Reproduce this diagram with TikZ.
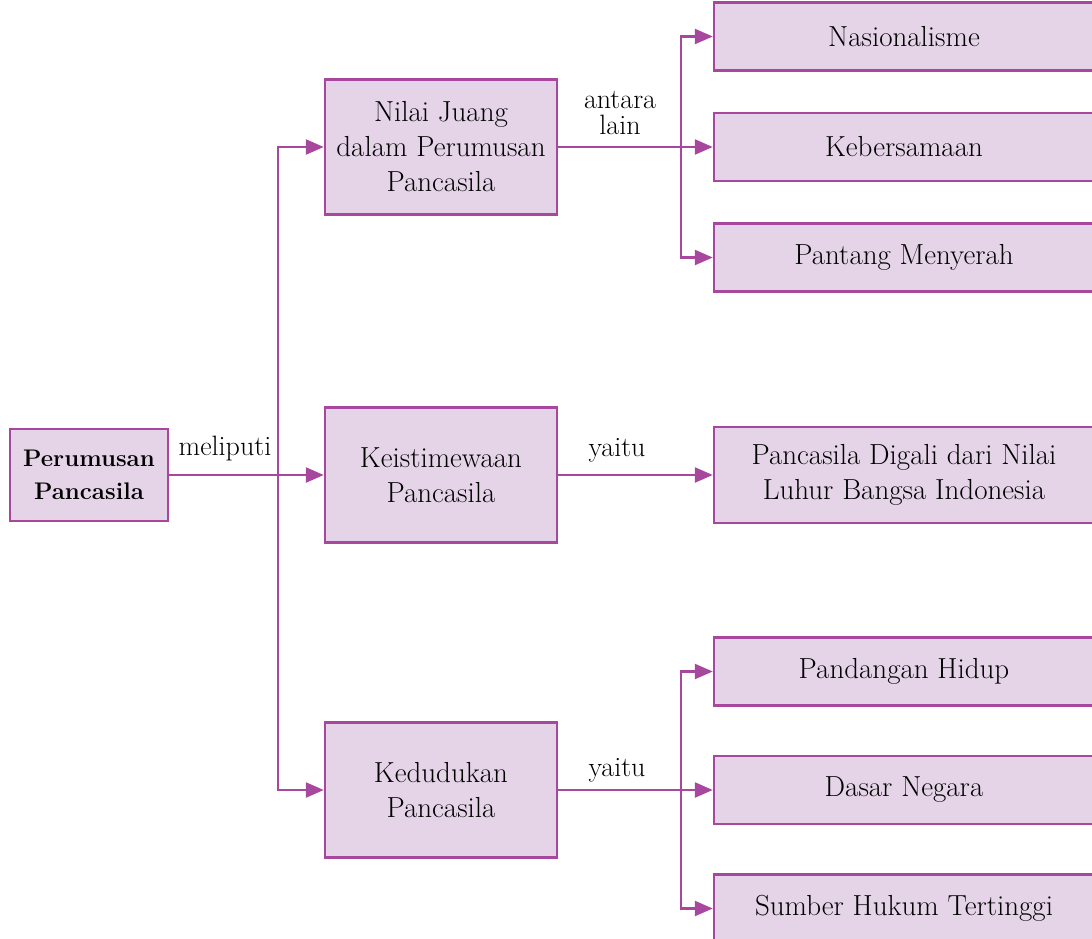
\documentclass[tikz,border=0pt]{standalone}
\usepackage{fontspec}
\usepackage{tikz}
\usetikzlibrary{positioning}
\usetikzlibrary{arrows.meta}
\definecolor{ungu}{HTML}{A8479E}
\definecolor{unguMuda}{HTML}{E5D3E8}

\tikzset{
  kotak/.style={draw=ungu, fill=unguMuda, line width=2.5pt, align=center, inner sep=0pt,
    font=\fontsize{29}{35}\selectfont},
  kanan/.style={kotak, minimum width=380pt, minimum height=68pt},
  tengah/.style={kotak, minimum width=232pt, minimum height=135pt},
  panah/.style={-{Triangle[length=18pt,width=15pt]}, color=ungu, line width=2.5pt},
  ket/.style={align=center, font=\fontsize{28}{26}\selectfont}
}

\begin{document}
\begin{tikzpicture}[x=1pt,y=1pt]
\useasboundingbox (0,0) rectangle (1092,-939);

\node(a)[kotak, minimum width=158pt, minimum height=92pt, font=\fontsize{24}{33}\selectfont\bfseries] at (89,-475) {Perumusan\\Pancasila};

\node(A)[tengah] at (441,-147) {Nilai Juang\\dalam Perumusan\\Pancasila};
\node(B)[tengah] at (441,-475) {Keistimewaan\\Pancasila};
\node(C)[tengah] at (441,-790) {Kedudukan\\Pancasila};

\node(A2)[kanan] at (904,-147) {Kebersamaan};
\node(A1)[kanan, above=40pt of A2] {Nasionalisme};
\node(A3)[kanan, below=40pt of A2] {Pantang Menyerah};

\node(B1)[kanan, minimum height=96pt] at (904,-475) {Pancasila Digali dari Nilai\\Luhur Bangsa Indonesia};

\node(C2)[kanan] at (904,-790) {Dasar Negara};
\node(C1)[kanan, above=48pt of C2] {Pandangan Hidup};
\node(C3)[kanan, below=48pt of C2] {Sumber Hukum Tertinggi};

\coordinate(ja) at (278,-475);
\coordinate(jA) at (681,-147);
\coordinate(jC) at (681,-790);

\draw[panah] (a.east)--(B.west);
\draw[panah] (ja) |- (A.west);
\draw[panah] (ja) |- (C.west);

\draw[panah] (A.east)--(A2.west);
\draw[panah] (jA) |- (A1.west);
\draw[panah] (jA) |- (A3.west);

\draw[panah] (B.east)--(B1.west);

\draw[panah] (C.east)--(C2.west);
\draw[panah] (jC) |- (C1.west);
\draw[panah] (jC) |- (C3.west);

\node(m)[ket] at (225,-449) {meliputi};
\node(n)[ket] at (620,-113) {antara\\lain};
\node(y1)[ket] at (617,-450) {yaitu};
\node(y2)[ket] at (617,-770) {yaitu};
\end{tikzpicture}
\end{document}
